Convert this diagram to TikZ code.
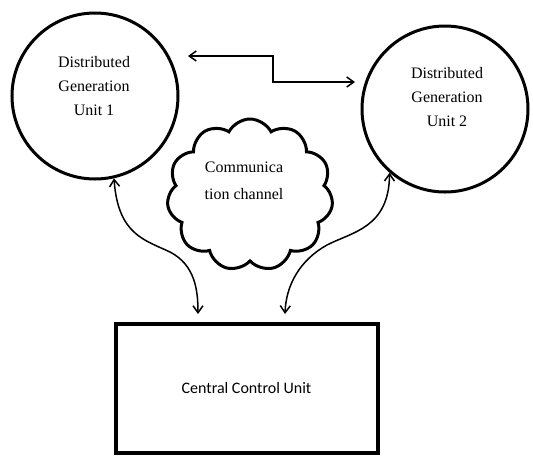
\documentclass[tikz,border=0pt]{standalone}
\usepackage{fontspec}
\setmainfont{Liberation Serif}
\newfontfamily\boxfont{Carlito}
\usetikzlibrary{shapes.symbols,arrows.meta}
\begin{document}
\begin{tikzpicture}[x=1pt,y=-1pt,
  dgu/.style={circle,draw,line width=3pt,minimum size=166pt,inner sep=0pt},
  lbl/.style={align=center,font=\fontsize{16}{24}\selectfont},
  conn/.style={line width=1.5pt,{Straight Barb[length=7pt,width=10pt]}-{Straight Barb[length=7pt,width=10pt]}},
  ccu/.style={draw,line width=4pt,minimum width=262pt,minimum height=129pt,inner sep=0pt,font=\boxfont\fontsize{16}{20}\selectfont},
  cloudshape/.style={cloud,draw,line width=3pt,cloud puffs=11,cloud puff arc=125,aspect=1.1,minimum width=166pt,minimum height=152pt}
]
\useasboundingbox (0,0) rectangle (533,456);
\node[dgu] (c1) at (95,96) {};
\node[lbl] (t1) at (94,86) {Distributed\\Generation\\Unit 1};
\node[dgu] (c2) at (445,109) {};
\node[lbl] (t2) at (447,97) {Distributed\\Generation\\Unit 2};
\node[cloudshape] (cl) at (250,195) {};
\node[lbl,font=\fontsize{16}{27}\selectfont] (tc) at (244,181) {Communica\\tion channel};
\node[ccu] (ccu) at (246.5,388) {Central Control Unit};
\coordinate (z1) at (188,56);
\coordinate (z2) at (355,82);
\coordinate (a1) at (198,314);
\coordinate (a2) at (285,314);
\draw[conn] (z1) -- (273,56) -- (273,82) -- (z2);
\draw[conn] (c1.-77) .. controls (118,235) and (145,240) .. (170,252) .. controls (195,265) and (198,290) .. (a1);
\draw[conn] (c2.-131) .. controls (389,228) and (352,232) .. (327,245) .. controls (300,260) and (286,285) .. (a2);
\end{tikzpicture}
\end{document}
